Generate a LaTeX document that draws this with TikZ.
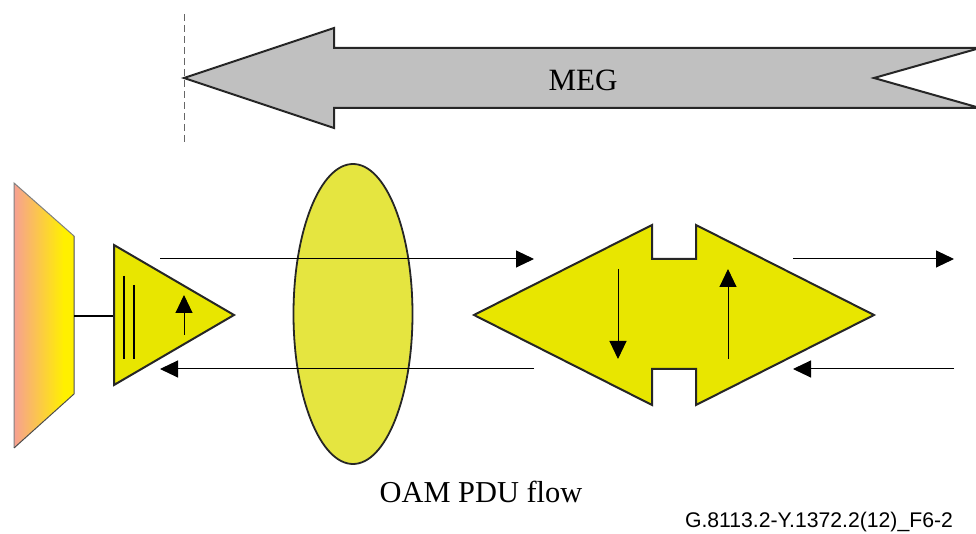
\documentclass[tikz,border=0pt]{standalone}
\usepackage{fontspec}
\setmainfont{Liberation Serif}
\newfontfamily\figfont{Liberation Sans}
\usetikzlibrary{arrows.meta,shapes.geometric}

\definecolor{megGray}{RGB}{192,192,192}
\definecolor{mepYellow}{RGB}{232,230,0}
\definecolor{pduYellow}{RGB}{229,229,64}
\definecolor{portPink}{RGB}{247,160,146}
\definecolor{portYellow}{RGB}{255,240,0}

\tikzset{
    flow/.style={line width=0.5pt, -{Triangle[length=9pt,width=8.5pt]}},
    outline/.style={draw=black!85, line width=1pt},
}

\begin{document}
\begin{tikzpicture}[x=0.5pt, y=-0.5pt]
    \useasboundingbox (0,0) rectangle (976,534);

    % --- MEG arrow ---
    \draw[gray!80!black, dash pattern=on 3.5pt off 2pt, line width=0.5pt] (184,14) -- (184,145);
    \filldraw[fill=megGray, outline]
        (184,78) -- (334,28) -- (334,48) -- (980,48) -- (874,78)
        -- (980,108) -- (334,108) -- (334,128) -- cycle;
    \node (meg) at (583,80) {\fontsize{15.5}{18}\selectfont MEG};

    % --- Port and source MEP ---
    \begin{scope}
        \clip (14,183) -- (74,236) -- (74,394) -- (14,448) -- cycle;
        \shade[left color=portPink, right color=portYellow] (14,180) rectangle (64,450);
        \fill[portYellow] (63,180) rectangle (75,450);
    \end{scope}
    \draw[gray, line width=0.5pt] (14,448) -- (14,183) -- (74,236);
    \draw[black!70, line width=0.5pt] (74,236) -- (74,394) -- (14,448);

    \coordinate (port) at (74,316);
    \coordinate (mep_L) at (114,316);
    \draw[line width=0.7pt] (port) -- (mep_L);

    \filldraw[fill=mepYellow, outline] (114,245) -- (234,315) -- (114,385) -- cycle;
    \draw[line width=0.9pt] (124,276) -- (124,359);
    \draw[line width=0.9pt] (134,285) -- (134,359);
    \draw[flow] (184,335) -- (184,295);

    % --- OAM PDU ---
    \node[ellipse, draw=black!85, line width=0.9pt, fill=pduYellow, inner sep=0pt,
          minimum width=59.5pt, minimum height=150pt] (pdu) at (353,314) {};
    \node (pdu_text) at (481,492) {\fontsize{15.2}{18}\selectfont OAM PDU flow};

    % --- MIP ---
    \filldraw[fill=mepYellow, outline]
        (474,315) -- (652,225) -- (652,259) -- (696,259) -- (696,225)
        -- (874,315) -- (696,405) -- (696,369) -- (652,369) -- (652,405) -- cycle;
    \draw[flow] (618,269) -- (618,359);
    \draw[flow] (728,359) -- (728,269);

    % --- Flows ---
    \coordinate (tx_A) at (160,259);
    \coordinate (tx_B) at (534,259);
    \coordinate (tx_C) at (793,259);
    \coordinate (tx_D) at (954,259);
    \coordinate (rx_A) at (160,369);
    \coordinate (rx_B) at (534,369);
    \coordinate (rx_C) at (793,369);
    \coordinate (rx_D) at (954,369);

    \draw[flow] (tx_A) -- (tx_B);
    \draw[flow] (tx_C) -- (tx_D);
    \draw[flow] (rx_B) -- (rx_A);
    \draw[flow] (rx_D) -- (rx_C);

    \node[anchor=east] (fig_id) at (960,522) {\figfont\fontsize{10.6}{12}\selectfont G.8113.2-Y.1372.2(12)\_F6-2};
\end{tikzpicture}
\end{document}
